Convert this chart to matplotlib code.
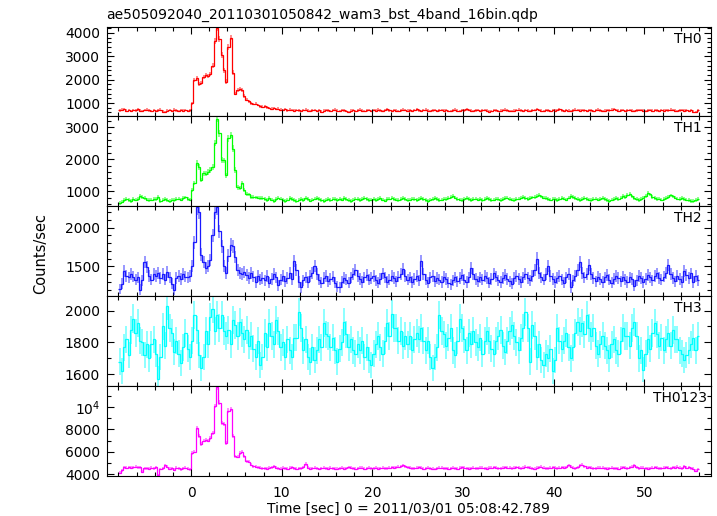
import numpy as np
import matplotlib.pyplot as plt
from matplotlib.ticker import MultipleLocator, FuncFormatter

plt.rcParams['font.family'] = ['DejaVu Sans']
plt.rcParams['mathtext.fontset'] = 'dejavusans'

title = "ae505092040_20110301050842_wam3_bst_4band_16bin.qdp"
xtitle = "Time [sec] 0 = 2011/03/01 05:08:42.789"
ytitle = "Counts/sec"

# light curve bins: 16 x 1/64 s = 0.25 s, starting at t = -8 s
t_start = -8.0
bin_width = 0.25

# counts/sec per bin, 16 bins (4 s) per line
th0 = [690, 720, 740, 680, 700, 660, 710, 690, 730, 680, 650, 700, 720, 690, 670, 700,
       660, 690, 720, 640, 610, 680, 700, 670, 720, 690, 650, 700, 680, 710, 670, 690,
       1000, 2000, 2050, 1800, 1850, 2100, 2200, 2150, 2250, 2600, 3650, 4200, 3750, 3050, 2400, 1920,
       3400, 3800, 2300, 1400, 1550, 1600, 1550, 1300, 1150, 1080, 1000, 960, 980, 920, 860, 850,
       860, 820, 790, 760, 790, 740, 760, 720, 700, 740, 690, 720, 700, 680, 710, 690,
       660, 700, 720, 680, 650, 690, 710, 670, 700, 640, 680, 710, 690, 660, 700, 720,
       680, 650, 700, 690, 660, 630, 680, 700, 670, 690, 720, 680, 650, 690, 700, 670,
       700, 680, 720, 690, 660, 700, 730, 690, 670, 700, 680, 650, 690, 720, 700, 680,
       690, 660, 700, 730, 690, 670, 700, 720, 680, 650, 690, 700, 670, 690, 710, 680,
       700, 670, 650, 690, 720, 680, 660, 700, 690, 730, 700, 680, 660, 690, 700, 670,
       690, 710, 680, 640, 670, 700, 690, 660, 680, 700, 720, 690, 670, 650, 680, 700,
       720, 690, 670, 700, 680, 650, 690, 710, 740, 700, 680, 660, 700, 690, 670, 700,
       680, 700, 730, 690, 670, 700, 680, 650, 690, 720, 700, 680, 710, 690, 660, 700,
       690, 670, 700, 720, 690, 660, 680, 700, 690, 720, 740, 700, 680, 690, 700, 670,
       690, 700, 680, 660, 690, 710, 700, 680, 650, 690, 700, 680, 710, 690, 670, 700,
       680, 700, 690, 720, 700, 680, 660, 690, 700, 680, 690, 670, 700, 640, 610, 690]

th1 = [630, 680, 720, 750, 730, 700, 760, 740, 760, 850, 820, 780, 740, 720, 740, 760,
       760, 830, 700, 740, 760, 730, 700, 740, 720, 750, 770, 740, 790, 810, 760, 740,
       1050, 1250, 1880, 1750, 1350, 1560, 1540, 1600, 1660, 1750, 2500, 3260, 2800, 1980, 1960, 1500,
       2650, 2750, 2330, 1660, 1120, 1100, 1250, 1050, 920, 900, 830, 820, 810, 800, 790, 780,
       760, 720, 780, 740, 700, 760, 800, 770, 730, 700, 740, 780, 760, 730, 690, 740,
       760, 730, 780, 750, 710, 740, 770, 790, 750, 720, 700, 740, 760, 730, 770, 750,
       720, 760, 740, 780, 750, 730, 700, 740, 770, 760, 730, 750, 790, 760, 720, 740,
       760, 730, 750, 780, 740, 710, 750, 770, 800, 760, 740, 720, 760, 780, 750, 730,
       740, 770, 750, 720, 760, 790, 760, 730, 700, 740, 760, 780, 750, 720, 740, 770,
       760, 790, 820, 850, 800, 760, 740, 720, 750, 780, 760, 730, 750, 770, 740, 760,
       730, 760, 780, 750, 720, 740, 770, 760, 730, 750, 780, 800, 760, 740, 720, 750,
       770, 800, 820, 790, 760, 780, 810, 830, 860, 880, 840, 800, 780, 760, 740, 770,
       750, 720, 760, 790, 770, 740, 800, 850, 820, 780, 750, 730, 760, 790, 760, 740,
       720, 750, 770, 740, 760, 780, 750, 730, 700, 740, 760, 780, 750, 800, 850, 820,
       880, 920, 840, 780, 750, 730, 760, 800, 860, 950, 900, 820, 780, 750, 770, 740,
       760, 790, 820, 870, 840, 800, 770, 750, 780, 760, 740, 720, 700, 690, 720, 750]

th2 = [1210, 1280, 1440, 1380, 1360, 1400, 1370, 1330, 1360, 1200, 1320, 1560, 1490, 1380, 1330, 1400,
       1380, 1420, 1350, 1400, 1330, 1430, 1360, 1280, 1200, 1350, 1380, 1340, 1400, 1370, 1360, 1380,
       1500, 1810, 2260, 2200, 1650, 1560, 1480, 1500, 1580, 1900, 2200, 2260, 1950, 1760, 1500, 1420,
       1640, 1780, 1760, 1620, 1460, 1420, 1400, 1430, 1390, 1350, 1420, 1370, 1300, 1380, 1330, 1350,
       1320, 1380, 1290, 1340, 1400, 1360, 1260, 1330, 1380, 1310, 1350, 1420, 1340, 1570, 1450, 1300,
       1230, 1320, 1360, 1300, 1380, 1420, 1500, 1400, 1330, 1290, 1350, 1380, 1310, 1340, 1370, 1290,
       1240, 1230, 1300, 1350, 1330, 1290, 1360, 1400, 1450, 1380, 1340, 1300, 1360, 1390, 1330, 1350,
       1380, 1320, 1290, 1340, 1410, 1360, 1300, 1330, 1380, 1350, 1310, 1370, 1400, 1470, 1380, 1330,
       1360, 1300, 1340, 1380, 1320, 1570, 1400, 1330, 1290, 1360, 1380, 1310, 1350, 1330, 1300, 1370,
       1340, 1290, 1270, 1320, 1360, 1310, 1350, 1390, 1330, 1300, 1360, 1480, 1400, 1340, 1310, 1360,
       1330, 1380, 1350, 1290, 1340, 1410, 1370, 1320, 1300, 1350, 1390, 1340, 1310, 1280, 1350, 1380,
       1340, 1300, 1360, 1400, 1350, 1320, 1380, 1450, 1600, 1420, 1360, 1330, 1400, 1510, 1380, 1340,
       1300, 1350, 1380, 1330, 1290, 1360, 1400, 1230, 1320, 1380, 1450, 1560, 1420, 1360, 1400, 1520,
       1400, 1350, 1310, 1370, 1340, 1300, 1360, 1390, 1330, 1290, 1340, 1380, 1350, 1310, 1370, 1330,
       1300, 1360, 1340, 1250, 1320, 1380, 1350, 1300, 1340, 1390, 1360, 1320, 1380, 1410, 1350, 1330,
       1370, 1420, 1520, 1400, 1350, 1310, 1380, 1340, 1300, 1440, 1390, 1350, 1410, 1300, 1380, 1320]

th3 = [1680, 1620, 1770, 1820, 1720, 1880, 1950, 1860, 1920, 1810, 1800, 1720, 1790, 1700, 1790, 1820,
       1730, 1570, 1710, 1900, 1780, 2030, 1890, 1860, 1740, 1810, 1730, 1670, 1770, 1860, 1760, 1710,
       1810, 1970, 1880, 1720, 1640, 1710, 1870, 1790, 1960, 2010, 1870, 1970, 1890, 1970, 1870, 1840,
       1880, 1790, 1940, 1910, 1840, 1930, 1860, 1820, 1880, 1780, 1840, 1760, 1710, 1810, 1660, 1710,
       1860, 1770, 1920, 1840, 1790, 1940, 1870, 1770, 1800, 1710, 1820, 1750, 1710, 1830, 1830, 1990,
       1890, 1750, 1820, 1710, 1680, 1770, 1690, 1750, 1820, 1770, 1920, 1850, 1840, 1770, 1830, 1750,
       1680, 1760, 1800, 1930, 1850, 1770, 1820, 1750, 1730, 1790, 1750, 1810, 1710, 1770, 1690, 1660,
       1730, 1790, 1840, 1770, 1730, 1810, 1920, 1840, 1980, 1890, 1890, 1810, 1870, 1780, 1840, 1790,
       1840, 1750, 1820, 1860, 1820, 1890, 1810, 1750, 1810, 1710, 1640, 1710, 1770, 1970, 1870, 1850,
       1780, 1830, 1890, 1750, 1720, 1810, 1950, 1890, 1820, 1750, 1860, 1790, 1870, 1800, 1770, 1830,
       1730, 1810, 1870, 1810, 1760, 1730, 1810, 1840, 1880, 1780, 1740, 1810, 1870, 1910, 1840, 1800,
       1750, 1830, 1890, 1990, 1890, 1680, 1910, 1840, 1710, 1790, 1690, 1660, 1730, 1700, 1760, 1620,
       1690, 1890, 1810, 1760, 1810, 1860, 1770, 1700, 1770, 1860, 1930, 1870, 1920, 1850, 1970, 1890,
       1840, 1890, 1780, 1730, 1790, 1840, 1780, 1750, 1700, 1790, 1820, 1750, 1730, 1810, 1890, 1840,
       1840, 1780, 1890, 1930, 1840, 1700, 1750, 1630, 1730, 1820, 1760, 1860, 1920, 1850, 1780, 1830,
       1750, 1820, 1860, 1780, 1880, 1820, 1820, 1750, 1730, 1690, 1720, 1750, 1790, 1830, 1750, 1840]

th0123 = [4100, 4350, 4600, 4580, 4620, 4550, 4600, 4640, 4590, 4620, 4200, 4500, 4520, 4480, 4560, 4500,
          4600, 3900, 4450, 4500, 4800, 4650, 4480, 4520, 4380, 4550, 4500, 4430, 4520, 4560, 4480, 4420,
          5900, 6000, 8150, 7400, 6700, 7000, 7050, 7000, 7200, 7700, 10100, 11800, 10400, 8550, 8500, 6800,
          9700, 9850, 7400, 5600, 5550, 5900, 6000, 5600, 5150, 5100, 4850, 4700, 4650, 4600, 4550, 4500,
          4520, 4480, 4560, 4600, 4700, 4580, 4500, 4460, 4540, 4520, 4480, 4550, 4600, 4500, 4470, 4530,
          4500, 4600, 4900, 4550, 4480, 4520, 4560, 4500, 4450, 4520, 4580, 4500, 4470, 4540, 4510, 4480,
          4460, 4520, 4550, 4490, 4530, 4600, 4560, 4500, 4470, 4520, 4580, 4540, 4490, 4510, 4560, 4530,
          4500, 4540, 4480, 4520, 4560, 4500, 4530, 4580, 4620, 4560, 4600, 4650, 4700, 4780, 4680, 4600,
          4560, 4520, 4500, 4550, 4600, 4540, 4490, 4520, 4560, 4530, 4480, 4450, 4500, 4540, 4580, 4520,
          4500, 4460, 4520, 4560, 4530, 4490, 4550, 4600, 4540, 4500, 4470, 4520, 4560, 4530, 4500, 4540,
          4580, 4520, 4490, 4540, 4570, 4600, 4550, 4500, 4530, 4560, 4620, 4580, 4540, 4500, 4550, 4600,
          4560, 4520, 4580, 4640, 4600, 4550, 4520, 4480, 4540, 4600, 4650, 4580, 4520, 4500, 4560, 4600,
          4550, 4520, 4580, 4620, 4560, 4600, 4800, 4650, 4550, 4500, 4600, 4780, 4850, 4700, 4550, 4620,
          4580, 4520, 4500, 4540, 4580, 4550, 4500, 4460, 4520, 4560, 4530, 4500, 4480, 4540, 4600, 4560,
          4520, 4600, 4650, 4800, 4620, 4500, 4550, 4580, 4520, 4480, 4520, 4560, 4600, 4540, 4500, 4520,
          4560, 4600, 4580, 4530, 4620, 4560, 4650, 4560, 4520, 4700, 4550, 4600, 4520, 4480, 4300, 4450]

names = ["TH0", "TH1", "TH2", "TH3", "TH0123"]
series = [th0, th1, th2, th3, th0123]
colors = ["#ff0000", "#00ff00", "#1a1aff", "#00ffff", "#ff00ff"]
ylims = [(430, 4270), (530, 3330), (1118, 2272), (1526, 2090), (3820, 11890)]
major = [1000, 1000, 500, 200, 2000]
minor = [200, 200, 100, 100, 1000]
label_x = [0.9856, 0.9856, 0.9856, 0.9856, 0.9939]

fig, axes = plt.subplots(5, 1, sharex=True, figsize=(7.17, 5.16), dpi=100)
fig.subplots_adjust(left=0.1487, right=0.9912, top=0.9486, bottom=0.0775, hspace=0)

for i, ax in enumerate(axes):
    vals = np.array(series[i], dtype=float)
    t = t_start + bin_width * (np.arange(len(vals)) + 0.5)
    edges = t_start + bin_width * np.arange(len(vals) + 1)
    err = np.sqrt(vals / bin_width)

    ax.vlines(t, vals - err, vals + err, color=colors[i], lw=1.4, alpha=0.45)
    ax.stairs(vals, edges, baseline=None, color=colors[i], lw=0.9)

    ax.set_xlim(-9.31, 57.3)
    ax.set_ylim(*ylims[i])
    ax.xaxis.set_major_locator(MultipleLocator(10))
    ax.xaxis.set_minor_locator(MultipleLocator(2))
    ax.yaxis.set_major_locator(MultipleLocator(major[i]))
    ax.yaxis.set_minor_locator(MultipleLocator(minor[i]))
    ax.tick_params(which='both', direction='in', top=True, right=True,
                   width=0.8, labelsize=10)
    ax.tick_params(which='major', length=4.8)
    ax.tick_params(which='minor', length=2.6)
    ax.tick_params(axis='y', pad=4.7)
    ax.tick_params(axis='x', pad=7.2)
    for sp in ax.spines.values():
        sp.set_linewidth(0.8)

    ax.text(label_x[i], 1 - 5.0 / 89.9, names[i], transform=ax.transAxes,
            ha='right', va='top', fontsize=10)

# QDP writes 10000 as 10^4
axes[4].yaxis.set_major_formatter(
    FuncFormatter(lambda v, p: r'$\mathregular{10^4}$' if v == 10000 else '%d' % v))

fig.text(0.1487, 0.9632, title, ha='left', va='baseline', fontsize=10)
fig.text(0.5699, 0.0058, xtitle, ha='center', va='baseline', fontsize=10)
fig.text(0.057, 0.508, ytitle, ha='center', va='center', rotation=90, fontsize=10.5)

fig.savefig("out.png", dpi=100)
